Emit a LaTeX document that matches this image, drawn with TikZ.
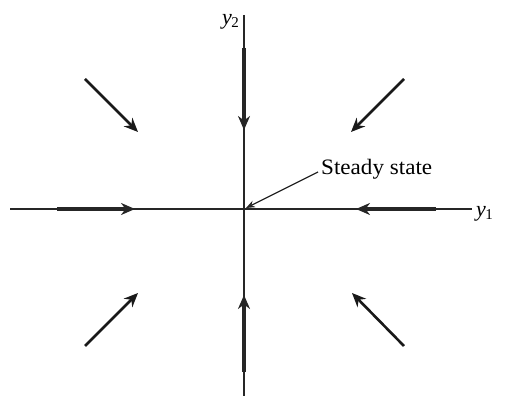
\documentclass[tikz,border=0pt]{standalone}
\usepackage{fontspec}
\setmainfont{Liberation Serif}
\usetikzlibrary{arrows.meta}
\tikzset{
  axis/.style={line width=1.4pt, black!85},
  flow/.style={line width=3.4pt, black!85, -{Stealth[length=14pt,width=12pt]}},
  diag/.style={line width=2.6pt, black!90, -{Stealth[length=14pt,width=12pt]}},
  pointer/.style={line width=1.2pt, black!85, -{Stealth[length=9pt,width=7pt]}},
  lbl/.style={font=\fontsize{22}{26}\selectfont, inner sep=0pt}
}
\begin{document}
\begin{tikzpicture}[x=1pt,y=-1pt]
\useasboundingbox (0,0) rectangle (509,403);
% axes
\coordinate (O) at (244,209);
\coordinate (xl) at (10,209);
\coordinate (xr) at (472,209);
\coordinate (yt) at (244,15);
\coordinate (yb) at (244,396);
\draw[axis] (xl) -- (xr);
\draw[axis] (yt) -- (yb);
\node[lbl, anchor=west] (y1) at (476,214) {\textit{y}\kern-0.5pt\raisebox{-0.25ex}{\fontsize{15}{17}\selectfont 1}};
\node[lbl, anchor=east] (y2) at (239,22) {\textit{y}\kern-0.5pt\raisebox{-0.25ex}{\fontsize{15}{17}\selectfont 2}};
% flows along axes
\coordinate (la) at (57,209);  \coordinate (lb) at (135,209);
\coordinate (ra) at (436,209); \coordinate (rb) at (356,209);
\coordinate (ta) at (244,48);  \coordinate (tb) at (244,130);
\coordinate (ba) at (244,372); \coordinate (bb) at (244,295);
\draw[flow] (la) -- (lb);
\draw[flow] (ra) -- (rb);
\draw[flow] (ta) -- (tb);
\draw[flow] (ba) -- (bb);
% diagonal flows
\coordinate (d1a) at (85,79);   \coordinate (d1b) at (138,132);
\coordinate (d2a) at (404,79);  \coordinate (d2b) at (351,132);
\coordinate (d3a) at (85,346);  \coordinate (d3b) at (138,293);
\coordinate (d4a) at (404,346); \coordinate (d4b) at (352,293);
\draw[diag] (d1a) -- (d1b);
\draw[diag] (d2a) -- (d2b);
\draw[diag] (d3a) -- (d3b);
\draw[diag] (d4a) -- (d4b);
% steady state label
\node[lbl, anchor=west, xscale=1.05] (ss) at (321,169) {Steady state};
\coordinate (sp) at (318,172);
\coordinate (st) at (246,208);
\draw[pointer] (sp) -- (st);
\end{tikzpicture}
\end{document}
